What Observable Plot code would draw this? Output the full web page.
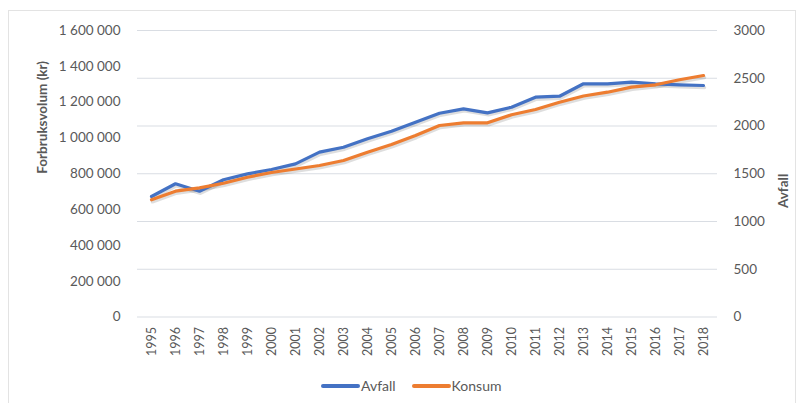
<!DOCTYPE html>
<html>
<head>
<meta charset="utf-8">
<script src="https://cdn.jsdelivr.net/npm/d3@7"></script>
<script src="https://cdn.jsdelivr.net/npm/@observablehq/plot@0.6"></script>
<style>
  html, body { margin: 0; padding: 0; background: #fff; }
  #wrap { position: relative; width: 803px; height: 403px; overflow: hidden; font-family: Lato, "Open Sans", sans-serif; }
  #frame { position: absolute; left: 8px; top: 10px; width: 788px; height: 400px; border: 1px solid #e3e3e3; box-sizing: border-box; }
  #chart { position: absolute; left: 0; top: 0; }
  #legend { position: absolute; top: 377px; left: 321px; display: flex; gap: 16px; font-size: 14px; line-height: 18px; color: #595959; }
  .item { display: flex; align-items: center; }
  .sw { display: inline-block; width: 39px; height: 4px; border-radius: 2px; margin-right: 1px; }
</style>
</head>
<body>
<div id="wrap">
  <div id="frame"></div>
  <div id="chart"></div>
  <div id="legend"></div>
</div>
<script>
const years = ["1995","1996","1997","1998","1999","2000","2001","2002","2003","2004","2005","2006","2007","2008","2009","2010","2011","2012","2013","2014","2015","2016","2017","2018"];
const avfall = [1262,1395,1317,1437,1499,1545,1604,1726,1778,1866,1946,2040,2134,2180,2138,2197,2302,2312,2442,2442,2459,2442,2431,2424];
const konsum = [654500,702500,721500,747200,780700,807000,826500,846000,874000,920400,963400,1013600,1069500,1084500,1084500,1129200,1158800,1199600,1234200,1255400,1283400,1296800,1324700,1348700];
const leftTicks = [0,200000,400000,600000,800000,1000000,1200000,1400000,1600000];
const rightTicks = [0,500,1000,1500,2000,2500,3000];
const leftMax = 1600000, rightMax = 3000;
const seriesNames = ["Avfall","Konsum"];
const colors = ["#4472C4","#ED7D31"];

const toRight = v => v * rightMax / leftMax;
const fmtSpace = v => d3.format(",")(v).replace(/,/g, " ");

const rows = [];
years.forEach((y, i) => {
  rows.push({year: y, series: "Avfall", v: avfall[i]});
  rows.push({year: y, series: "Konsum", v: toRight(konsum[i])});
});

const H = 370;
const textColor = "#595959";
const chart = Plot.plot({
  width: 803,
  height: H,
  marginLeft: 137,
  marginRight: 86,
  marginTop: 30,
  marginBottom: H - 316.5,
  style: {fontFamily: "Lato, 'Open Sans', sans-serif", fontSize: "12.5px", color: textColor, background: "transparent"},
  x: {type: "point", domain: years, padding: 0.5},
  y: {domain: [0, rightMax]},
  color: {domain: seriesNames, range: colors},
  marks: [
    Plot.gridY(rightTicks, {stroke: "#d9dde3", strokeOpacity: 1, strokeWidth: 1}),
    Plot.axisX({tickRotate: -90, tickSize: 0, tickPadding: 10, fill: textColor, label: null, fontSize: 12.5}),
    Plot.axisY({anchor: "left", ticks: leftTicks.map(toRight), tickFormat: v => fmtSpace(Math.round(v * leftMax / rightMax)), tickSize: 0, tickPadding: 17, fill: textColor, label: null, fontSize: 13.5}),
    Plot.axisY({anchor: "right", ticks: rightTicks, tickFormat: d => String(d), tickSize: 0, tickPadding: 16, fill: textColor, label: null, fontSize: 13.5}),
    Plot.line(rows, {x: "year", y: "v", z: "series", stroke: "#000", strokeOpacity: 0.13, strokeWidth: 3.5, dy: 2, dx: 1}),
    Plot.line(rows, {x: "year", y: "v", stroke: "series", strokeWidth: 3.2}),
    Plot.text(["Forbruksvolum (kr)"], {frameAnchor: "left", dx: -95, rotate: -90, fontWeight: "bold", fill: textColor, fontSize: 13.5}),
    Plot.text(["Avfall"], {frameAnchor: "right", dx: 66, rotate: -90, fontWeight: "bold", fill: textColor, fontSize: 13.5})
  ]
});
document.getElementById("chart").appendChild(chart);

const legend = document.getElementById("legend");
seriesNames.forEach((n, i) => {
  const it = document.createElement("div");
  it.className = "item";
  it.innerHTML = `<span class="sw" style="background:${colors[i]}"></span><span>${n}</span>`;
  legend.appendChild(it);
});
</script>
</body>
</html>
